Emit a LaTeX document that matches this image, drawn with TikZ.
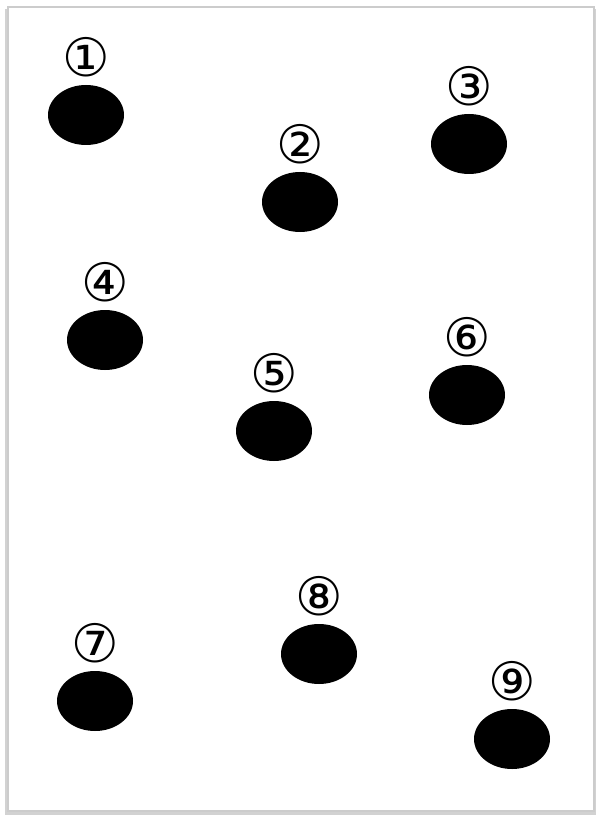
\documentclass[tikz,border=0pt]{standalone}
\usepackage{fontspec}
\newfontfamily\symfont{DejaVu Sans}
\usetikzlibrary{positioning, shapes.geometric}

\begin{document}
\begin{tikzpicture}[x=1pt, y=-1pt,
  every node/.style={font=\symfont\fontsize{53}{53}\selectfont},
  hole/.style={ellipse, fill=black, minimum width=76pt, minimum height=60pt, inner sep=0pt},
  tag/.style={inner sep=0pt, text=black},
  frame/.style={draw=gray!40, line width=1.2pt, fill=white}]

% page and frame
\useasboundingbox (0,0) rectangle (597,818);
\fill[gray!35] (5,9) rectangle (596,815);
\path[frame] (8,7) rectangle (594,811);

% nine holes with their numbers
\foreach \n/\lab/\x/\y in {1/①/86/115, 2/②/300/202, 3/③/469/144,
                         4/④/105/340, 5/⑤/274/431, 6/⑥/467/395,
                         7/⑦/95/701, 8/⑧/319/654, 9/⑨/512/739}{
  \node[hole] (h\n) at (\x,\y) {};
  \node[tag, above=8pt of h\n] (l\n) {\lab};
}
\end{tikzpicture}
\end{document}
